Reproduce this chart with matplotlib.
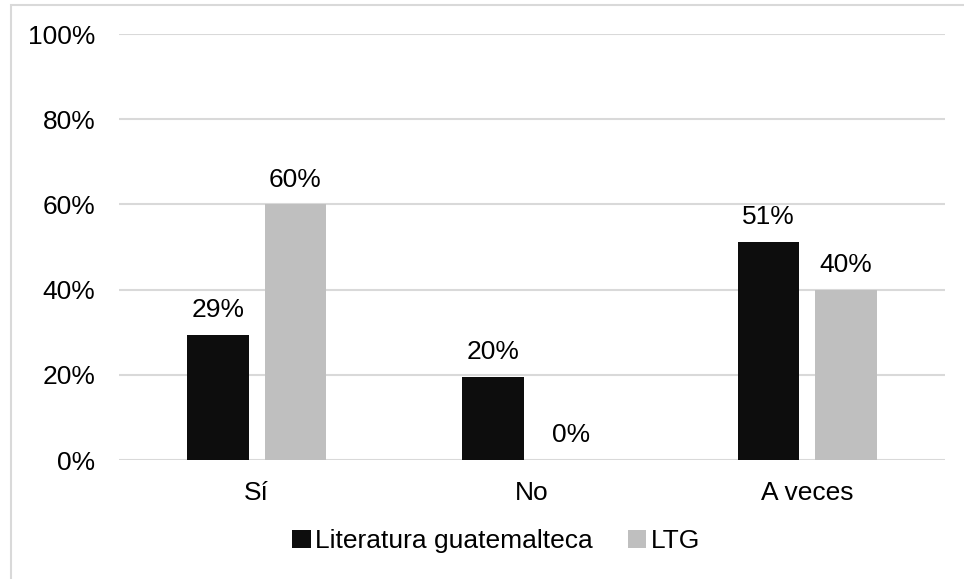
import numpy as np
import matplotlib.pyplot as plt
from matplotlib.patches import Rectangle

plt.rcParams['font.family'] = ['Liberation Sans', 'DejaVu Sans']

categories = ['Sí', 'No', 'A veces']
series_names = ['Literatura guatemalteca', 'LTG']
lit_guate = [29.3, 19.5, 51.2]
ltg = [60.0, 0.0, 40.0]
y_ticks = [0, 20, 40, 60, 80, 100]

colors = ['#0d0d0d', '#bfbfbf']
fs = 19

W, H = 964, 579
fig = plt.figure(figsize=(W / 100, H / 100), dpi=100)
ax = fig.add_axes([119 / W, 1 - 460 / H, (945 - 119) / W, (460 - 34) / H])

# chart border (runs past the right/bottom edge of the picture)
fig.patches.append(Rectangle((11 / W, -0.1), 1.1, 1 - 5 / H + 0.1,
                             transform=fig.transFigure, fill=False,
                             edgecolor='#d9d9d9', linewidth=1.5))

x = np.arange(len(categories))
w = 0.225
off = 0.141
for vals, dx, c, name in [(lit_guate, -off, colors[0], series_names[0]),
                          (ltg, off, colors[1], series_names[1])]:
    bars = ax.bar(x + dx, vals, width=w, color=c, label=name, zorder=3)
    for b, v in zip(bars, vals):
        ax.text(b.get_x() + b.get_width() / 2, v + 3.0, f'{v:.0f}%',
                ha='center', va='bottom', fontsize=fs, color='#000000')

ax.set_xlim(-0.5, 2.5)
ax.set_ylim(0, 100)
ax.set_yticks(y_ticks)
ax.set_yticklabels([f'{t}%' for t in y_ticks])
ax.set_xticks(x)
ax.set_xticklabels(categories)
ax.tick_params(axis='both', length=0, labelsize=fs, colors='#000000')
ax.tick_params(axis='y', pad=17)
ax.tick_params(axis='x', pad=15)
ax.grid(axis='y', color='#d9d9d9', linewidth=1.5, zorder=0)
for s in ax.spines.values():
    s.set_visible(False)

fig.legend(loc='center', bbox_to_anchor=(496 / W, 1 - 541 / H), ncol=2,
           frameon=False, fontsize=fs, handlelength=0.7, handleheight=0.7,
           handletextpad=0.15, columnspacing=1.35)

fig.savefig('out.png', dpi=100)
